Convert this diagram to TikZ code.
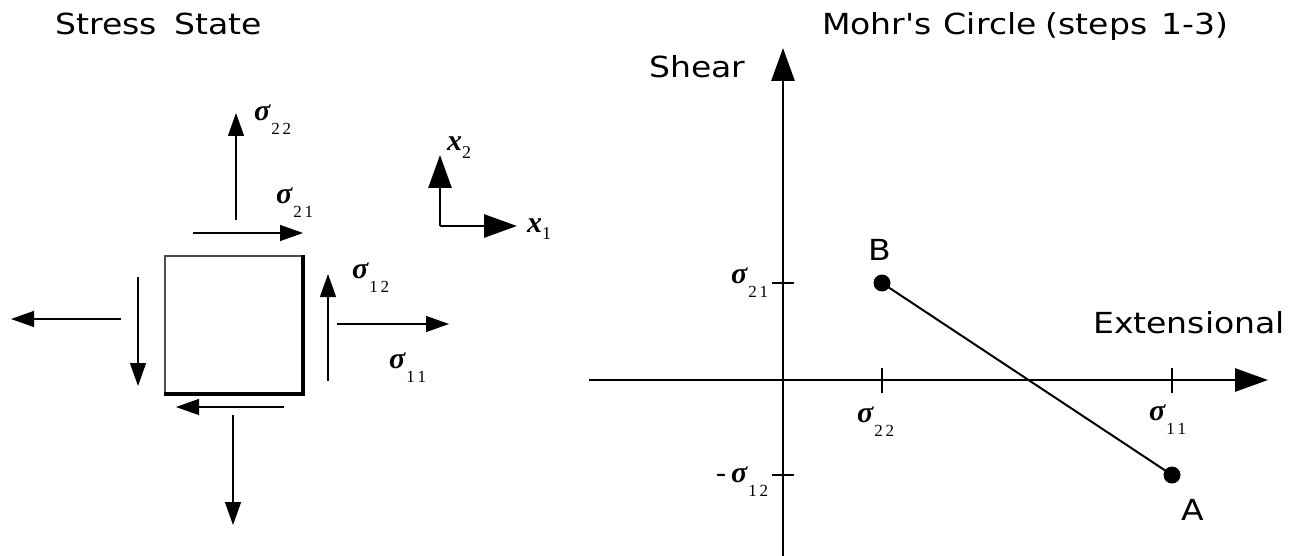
\documentclass[tikz,border=0pt]{standalone}
\usepackage{fontspec}
\newfontfamily\lab[FakeStretch=1.14]{DejaVu Sans}
\newfontfamily\symf{Liberation Serif}
\usetikzlibrary{arrows.meta}
\tikzset{
  thinarr/.style={line width=1.4pt, -{Triangle[length=23pt,width=16pt]}},
  axarr/.style={line width=2.8pt, -{Triangle[length=33pt,width=23pt]}},
  txt/.style={inner sep=0pt, anchor=base west, font=\lab\fontsize{29}{31}\selectfont},
  sig/.style={inner sep=0pt, anchor=base west, font=\symf\fontsize{30}{32}\selectfont},
  tick/.style={line width=2.6pt},
  dot/.style={circle, fill=black, inner sep=0pt, minimum size=17pt},
}
\newcommand{\sg}[1]{{\bfseries\itshape σ}\kern1pt\raisebox{-14pt}{\fontsize{17}{17}\selectfont #1}}
\newcommand{\xs}[1]{{\bfseries\itshape x}\raisebox{-8pt}{\fontsize{18}{18}\selectfont #1}}
\begin{document}
\begin{tikzpicture}[x=1pt,y=-1pt]
\useasboundingbox[fill=white] (0,0) rectangle (1295,556);

% ---------- titles ----------
\node[txt] (t1) at (55,35) {Stress\hspace{18pt}State};
\node[txt] (t2) at (822,35) {Mohr's\hspace{12pt}Circle\hspace{9pt}(steps\hspace{14pt}1-3)};

% ---------- stress state ----------
\node[draw=black!70, line width=2.2pt, minimum width=137pt, minimum height=137pt, inner sep=0pt] (sq) at (233.5,324.5) {};
\draw[line width=3.4pt] (sq.north east) -- (sq.south east) -- (sq.south west);

\coordinate (n0) at (236,220); \coordinate (n1) at (236,113);
\coordinate (s0) at (233,415); \coordinate (s1) at (233,525);
\coordinate (w0) at (121,319); \coordinate (w1) at (11,319);
\coordinate (e0) at (337,324); \coordinate (e1) at (449,324);
\draw[thinarr] (n0) -- (n1);
\draw[thinarr] (s0) -- (s1);
\draw[thinarr] (w0) -- (w1);
\draw[thinarr] (e0) -- (e1);

\coordinate (tn0) at (193,233); \coordinate (tn1) at (303,233);
\coordinate (tb0) at (284,407); \coordinate (tb1) at (176,407);
\coordinate (tw0) at (138,277); \coordinate (tw1) at (138,386);
\coordinate (te0) at (328,381); \coordinate (te1) at (328,274);
\draw[thinarr] (tn0) -- (tn1);
\draw[thinarr] (tb0) -- (tb1);
\draw[thinarr] (tw0) -- (tw1);
\draw[thinarr] (te0) -- (te1);

\node[sig] (l22) at (254,121) {\sg{2\,2}};
\node[sig] (l21) at (276,204) {\sg{2\,1}};
\node[sig] (l12) at (352,278) {\sg{1\,2}};
\node[sig] (l11) at (389,368) {\sg{1\,1}};

% coordinate axes
\coordinate (xo) at (440,226);
\coordinate (x1e) at (517,226);
\coordinate (x2e) at (440,155);
\draw[axarr] (xo) -- (x1e);
\draw[axarr] (xo) -- (x2e);
\node[sig] (lx2) at (447,151) {\xs{2}};
\node[sig] (lx1) at (527,232) {\xs{1}};

% ---------- Mohr's circle ----------
\coordinate (yb) at (783,556); \coordinate (yt) at (783,48);
\coordinate (xl) at (589,380); \coordinate (xr) at (1268,380);
\draw[axarr] (yb) -- (yt);
\draw[axarr] (xl) -- (xr);

\draw[tick] (772,283) -- (794,283);
\draw[tick] (772,475) -- (794,475);
\draw[tick] (882,368) -- (882,393);
\draw[tick] (1172,368) -- (1172,393);

\node[dot] (B) at (882,283) {};
\node[dot] (A) at (1172,475) {};
\draw[line width=2pt] (B.center) -- (A.center);

\node[txt] (shear) at (649,78) {Shear};
\node[txt] (ext) at (1093,333) {Extensional};
\node[txt] (lB) at (868,260) {B};
\node[txt] (lA) at (1181,520) {A};

\node[sig] (m21) at (731,283) {\sg{2\,1}};
\node[sig] (m12) at (716,482) {-\,\sg{1\,2}};
\node[sig] (m22) at (857,422) {\sg{2\,2}};
\node[sig] (m11) at (1149,420) {\sg{1\,1}};
\end{tikzpicture}
\end{document}
